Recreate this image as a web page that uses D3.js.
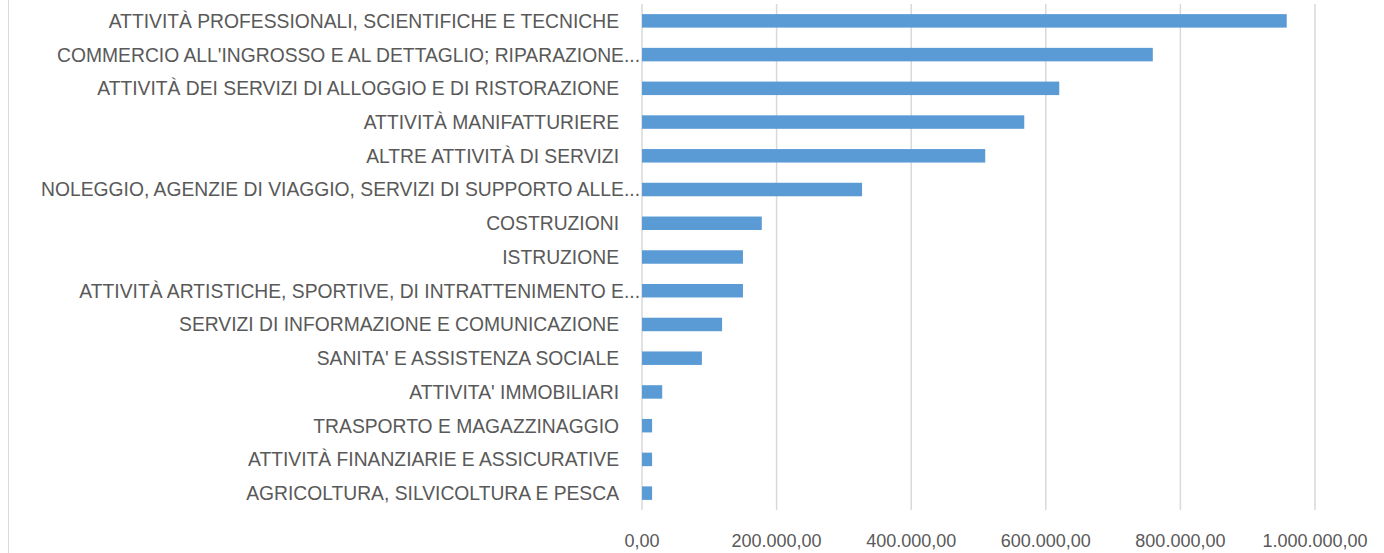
<!DOCTYPE html>
<html>
<head>
<meta charset="utf-8">
<script src="https://cdn.jsdelivr.net/npm/d3@7"></script>
<style>
  body { margin: 0; background: #fff; }
  svg { display: block; }
</style>
</head>
<body>
<div id="chart"></div>
<script>
const categories = [
  "ATTIVITÀ PROFESSIONALI, SCIENTIFICHE E TECNICHE",
  "COMMERCIO ALL'INGROSSO E AL DETTAGLIO; RIPARAZIONE...",
  "ATTIVITÀ DEI SERVIZI DI ALLOGGIO E DI RISTORAZIONE",
  "ATTIVITÀ MANIFATTURIERE",
  "ALTRE ATTIVITÀ DI SERVIZI",
  "NOLEGGIO, AGENZIE DI VIAGGIO, SERVIZI DI SUPPORTO ALLE...",
  "COSTRUZIONI",
  "ISTRUZIONE",
  "ATTIVITÀ ARTISTICHE, SPORTIVE, DI INTRATTENIMENTO E...",
  "SERVIZI DI INFORMAZIONE E COMUNICAZIONE",
  "SANITA' E ASSISTENZA SOCIALE",
  "ATTIVITA' IMMOBILIARI",
  "TRASPORTO E MAGAZZINAGGIO",
  "ATTIVITÀ FINANZIARIE E ASSICURATIVE",
  "AGRICOLTURA, SILVICOLTURA E PESCA"
];
const values = [958000, 759000, 620000, 568000, 510000, 327000, 178000, 150000, 150000, 119000, 89000, 30000, 15000, 15000, 15000];
const tickValues = [0, 200000, 400000, 600000, 800000, 1000000];

const width = 1384, height = 553;
const margin = { top: 4, right: 69, bottom: 43, left: 642 };

const svg = d3.select("#chart").append("svg")
  .attr("width", width).attr("height", height);

// chart area border (only left edge visible in frame)
svg.append("rect")
  .attr("x", 8.5).attr("y", -2)
  .attr("width", width + 10).attr("height", height + 10)
  .attr("fill", "none").attr("stroke", "#d9d9d9").attr("stroke-width", 1);

const x = d3.scaleLinear()
  .domain([0, 1000000])
  .range([margin.left, width - margin.right]);

const y = d3.scaleBand()
  .domain(categories)
  .range([margin.top, height - margin.bottom])
  .paddingInner(0.6).paddingOuter(0.3);

// gridlines
svg.append("g")
  .selectAll("line")
  .data(tickValues)
  .enter().append("line")
  .attr("x1", d => x(d)).attr("x2", d => x(d))
  .attr("y1", margin.top).attr("y2", height - margin.bottom)
  .attr("stroke", "#d9d9d9").attr("stroke-width", 1.5);

// bars
svg.selectAll(".bar")
  .data(values)
  .enter().append("rect")
  .attr("class", "bar")
  .attr("x", x(0))
  .attr("y", (d, i) => y(categories[i]))
  .attr("width", d => x(d) - x(0))
  .attr("height", y.bandwidth())
  .attr("fill", "#5b9bd5");

const fmt = d3.formatLocale({ decimal: ",", thousands: ".", grouping: [3], currency: ["", ""] }).format(",.2f");

// category labels (truncated ones run closer to the axis, like Excel)
svg.append("g")
  .selectAll("text")
  .data(categories)
  .enter().append("text")
  .attr("x", d => d.endsWith("...") ? margin.left - 2 : margin.left - 23)
  .attr("y", d => y(d) + y.bandwidth() / 2)
  .attr("dy", "0.36em")
  .attr("text-anchor", "end")
  .attr("font-family", "'Liberation Sans', Arial, sans-serif")
  .attr("font-size", "19.3px")
  .attr("fill", "#595959")
  .text(d => d);

// value axis labels
svg.append("g")
  .selectAll("text")
  .data(tickValues)
  .enter().append("text")
  .attr("x", d => x(d))
  .attr("y", 541)
  .attr("dy", "0.36em")
  .attr("text-anchor", "middle")
  .attr("font-family", "'Liberation Sans', Arial, sans-serif")
  .attr("font-size", "18px")
  .attr("fill", "#595959")
  .text(d => fmt(d));
</script>
</body>
</html>
